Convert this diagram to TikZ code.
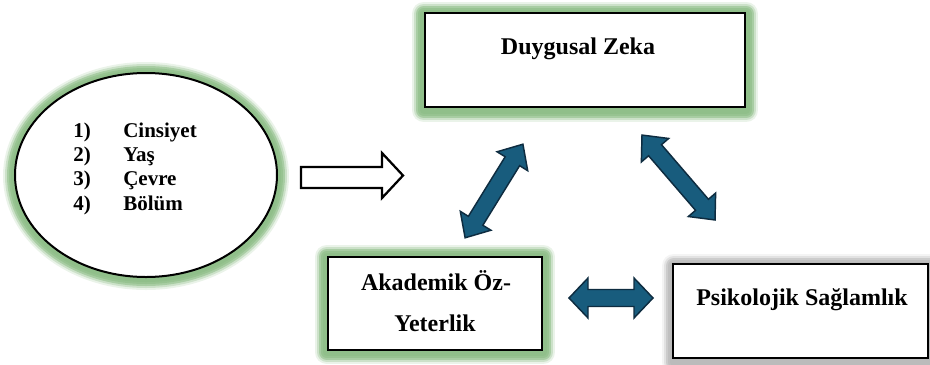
\documentclass[tikz,border=0pt]{standalone}
\usepackage{fontspec}
\setmainfont{Liberation Serif}
\usetikzlibrary{shapes.geometric,backgrounds}
\definecolor{glowgreen}{RGB}{84,156,74}
\definecolor{shadowgray}{RGB}{120,120,120}
\definecolor{arrowblue}{RGB}{24,92,125}
\definecolor{arrowedge}{RGB}{14,44,64}
\tikzset{
  boxnode/.style={draw=black, line width=1.8pt, fill=white, inner sep=0pt},
  ellnode/.style={ellipse, draw=black, line width=1.5pt, fill=white, inner sep=0pt},
  lbl/.style={font=\bfseries\fontsize{18}{20}\selectfont, inner sep=0pt, anchor=base},
  itm/.style={font=\bfseries\fontsize{15.75}{18}\selectfont, inner sep=0pt, anchor=base west},
  dblarr/.style={fill=arrowblue, draw=arrowedge, line width=1.1pt, line join=miter},
  blockarr/.style={fill=white, draw=black, line width=1.7pt, line join=miter},
  glowline/.style={draw=glowgreen, line join=round},
  shadowline/.style={draw=shadowgray, line join=round},
}
\begin{document}
\begin{tikzpicture}[x=0.75pt,y=-0.75pt]
\useasboundingbox (0,0) rectangle (930,364);

% ellipse with items
\node[ellnode, minimum width=196.5pt, minimum height=153pt] (el) at (146,175) {};
\node[itm] (n1) at (73,137) {1)};
\node[itm] (n2) at (73,161.3) {2)};
\node[itm] (n3) at (73,185.6) {3)};
\node[itm] (n4) at (73,210) {4)};
\node[itm] (t1) at (123,137) {Cinsiyet};
\node[itm] (t2) at (123,161.3) {Yaş};
\node[itm] (t3) at (123,185.6) {Çevre};
\node[itm] (t4) at (123,210) {Bölüm};

% boxes
\node[boxnode, minimum width=240pt, minimum height=70.5pt] (dz) at (585,60) {};
\node[boxnode, minimum width=160.5pt, minimum height=69.75pt] (ak) at (435,303.5) {};
\node[boxnode, minimum width=191.25pt, minimum height=70.5pt] (ps) at (800.5,311) {};

\node[lbl] (dzt) at (578,54) {Duygusal Zeka};
\node[lbl] (akt1) at (436,290) {Akademik Öz-};
\node[lbl] (akt2) at (435,331) {Yeterlik};
\node[lbl] (pst) at (802,305) {Psikolojik Sağlamlık};

% glows and shadow
\begin{pgfonlayer}{background}
\foreach \w/\o in {24/0.12,20/0.2,16/0.3,12/0.2,8/0.1}{
  \draw[glowline, line width=\w*0.75pt, draw opacity=\o] ([shift={(0,1)}]el.center) ellipse [x radius=98.25pt, y radius=76.5pt];
  \draw[glowline, line width=\w*0.75pt, draw opacity=\o] ([shift={(0,2)}]dz.north west) rectangle ([shift={(0,2)}]dz.south east);
  \draw[glowline, line width=\w*0.75pt, draw opacity=\o] ([shift={(0,1)}]ak.north west) rectangle ([shift={(0,1)}]ak.south east);
  \draw[shadowline, line width=\w*0.75pt, draw opacity=0.7*\o] ([shift={(2,3)}]ps.north west) rectangle ([shift={(2,3)}]ps.south east);
}
\end{pgfonlayer}

% white block arrow
\draw[blockarr] (301,167) -- (382,167) -- (382,153) -- (403,175.5) -- (382,198) -- (382,188) -- (301,188) -- cycle;

% double arrows
\begin{scope}[shift={(494,191)}, rotate=58.3]
  \draw[dblarr] (-55,0) -- (-35,18) -- (-35,8.5) -- (35,8.5) -- (35,18) -- (55,0) -- (35,-18) -- (35,-8.5) -- (-35,-8.5) -- (-35,-18) -- cycle;
\end{scope}
\begin{scope}[shift={(678.5,177.5)}, rotate=-49.3]
  \draw[dblarr] (-56,0) -- (-36,18) -- (-36,8.5) -- (36,8.5) -- (36,18) -- (56,0) -- (36,-18) -- (36,-8.5) -- (-36,-8.5) -- (-36,-18) -- cycle;
\end{scope}
\begin{scope}[shift={(611,298)}]
  \draw[dblarr] (-42,0) -- (-23,20) -- (-23,8.5) -- (23,8.5) -- (23,20) -- (42,0) -- (23,-20) -- (23,-8.5) -- (-23,-8.5) -- (-23,-20) -- cycle;
\end{scope}
\end{tikzpicture}
\end{document}
